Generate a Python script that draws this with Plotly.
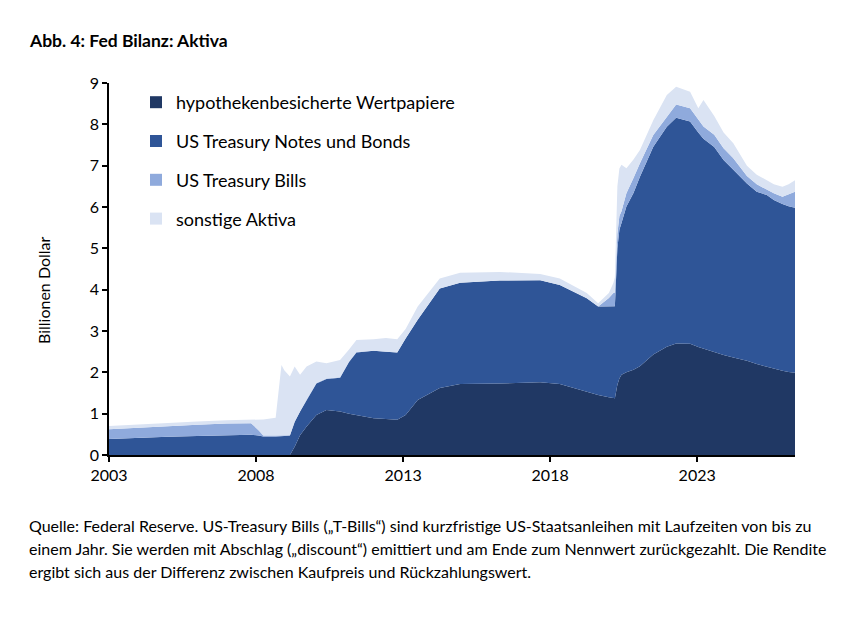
import plotly.graph_objects as go

# ---- data (Billionen Dollar) ----
dates = [
    "2003-01-01", "2004-01-01", "2005-01-01", "2006-01-01", "2007-01-01", "2007-11-01",
    "2008-02-01", "2008-04-01", "2008-09-01", "2008-10-08", "2008-11-12", "2008-12-17",
    "2009-02-25", "2009-04-25", "2009-07-01", "2009-09-20", "2010-01-20", "2010-05-25",
    "2010-11-10", "2011-03-01", "2011-06-01", "2012-01-01", "2012-06-01", "2012-10-20",
    "2013-02-01", "2013-07-01", "2014-04-01", "2014-12-10", "2016-04-15", "2017-08-30",
    "2018-05-01", "2019-04-01", "2019-08-20", "2019-12-31", "2020-02-25", "2020-03-15",
    "2020-04-15", "2020-05-10", "2020-06-05", "2020-08-05", "2020-11-01", "2021-01-20",
    "2021-07-05", "2021-12-20", "2022-04-15", "2022-10-05", "2023-01-15", "2023-03-20",
    "2023-08-01", "2023-11-25", "2024-03-25", "2024-09-10", "2025-01-10", "2025-05-15",
    "2025-08-10", "2025-11-25", "2026-02-10", "2026-04-30",
]
mbs = [
    0, 0, 0, 0, 0, 0,
    0, 0, 0, 0, 0, 0,
    0, 0.20, 0.48, 0.69, 0.97, 1.09,
    1.05, 1.00, 0.97, 0.89, 0.87, 0.85,
    0.97, 1.33, 1.62, 1.72, 1.73, 1.76,
    1.72, 1.53, 1.45, 1.40, 1.37, 1.37,
    1.70, 1.85, 1.94, 2.00, 2.06, 2.15,
    2.43, 2.62, 2.70, 2.69, 2.61, 2.57,
    2.48, 2.42, 2.36, 2.28, 2.20, 2.13,
    2.09, 2.04, 2.01, 1.99,
]
notes_bonds = [
    0.39, 0.42, 0.44, 0.46, 0.48, 0.49,
    0.47, 0.45, 0.45, 0.45, 0.45, 0.46,
    0.47, 0.60, 0.57, 0.64, 0.76, 0.75,
    0.82, 1.25, 1.51, 1.63, 1.63, 1.63,
    1.85, 1.94, 2.41, 2.45, 2.49, 2.47,
    2.39, 2.26, 2.14, 2.19, 2.22, 2.23,
    3.30, 3.60, 3.67, 4.01, 4.28, 4.58,
    5.03, 5.32, 5.46, 5.38, 5.19, 5.08,
    4.97, 4.72, 4.54, 4.29, 4.17, 4.16,
    4.08, 4.03, 4.01, 3.99,
]
bills = [
    0.23, 0.24, 0.26, 0.27, 0.28, 0.28,
    0.13, 0.02, 0.02, 0.02, 0.02, 0.01,
    0.01, 0.01, 0.01, 0.01, 0.01, 0.01,
    0.01, 0.01, 0.01, 0, 0, 0,
    0, 0, 0, 0, 0, 0,
    0, 0, 0, 0.21, 0.33, 0.33,
    0.35, 0.33, 0.29, 0.32, 0.36, 0.33,
    0.28, 0.25, 0.32, 0.32, 0.30, 0.30,
    0.30, 0.28, 0.28, 0.18, 0.18, 0.12,
    0.16, 0.18, 0.28, 0.39,
]
other = [
    0.08, 0.08, 0.08, 0.08, 0.08, 0.09,
    0.26, 0.39, 0.43, 1.13, 1.71, 1.58,
    1.42, 1.33, 0.88, 0.80, 0.52, 0.37,
    0.42, 0.29, 0.29, 0.28, 0.33, 0.32,
    0.23, 0.32, 0.24, 0.24, 0.21, 0.15,
    0.16, 0.13, 0.08, 0.12, 0.24, 0.37,
    1.15, 1.15, 1.12, 0.61, 0.45, 0.32,
    0.36, 0.52, 0.43, 0.40, 0.29, 0.64,
    0.45, 0.38, 0.36, 0.25, 0.23, 0.24,
    0.22, 0.24, 0.25, 0.28,
]

series_names = ["hypothekenbesicherte Wertpapiere", "US Treasury Notes und Bonds",
                "US Treasury Bills", "sonstige Aktiva"]
series_values = [mbs, notes_bonds, bills, other]
colors = ["#203864", "#2F5597", "#8FAADC", "#DAE3F3"]

year_ticks = ["2003", "2008", "2013", "2018", "2023"]

FONT = "Lato"

fig = go.Figure()
for name, vals, col in zip(series_names, series_values, colors):
    fig.add_trace(go.Scatter(
        x=dates, y=vals, name=name, stackgroup="one", mode="lines",
        line=dict(width=0, color=col), fillcolor=col, showlegend=False,
        hoverinfo="skip",
    ))
# legend entries (square markers)
for i, (name, col) in enumerate(zip(series_names, colors)):
    fig.add_trace(go.Scatter(
        x=[None], y=[None], mode="markers", name=name,
        marker=dict(symbol="square", size=12, color=col),
        legendgroup=f"g{i}", showlegend=True,
    ))

L, R, T, B = 109, 54, 83, 179
W, H = 849, 634
pw, ph = W - L - R, H - T - B

def px(xp):
    return (xp - L) / pw

def py(yp):
    return (H - B - yp) / ph

fig.update_layout(
    width=W, height=H,
    margin=dict(l=L, r=R, t=T, b=B, pad=0),
    paper_bgcolor="white", plot_bgcolor="white",
    font=dict(family=FONT, size=16, color="black"),
    showlegend=True,
    legend=dict(
        x=px(136), y=py(84), xanchor="left", yanchor="top",
        traceorder="grouped", tracegroupgap=12.4,
        font=dict(family=FONT, size=18, color="black"),
        bgcolor="rgba(0,0,0,0)", itemwidth=30,
    ),
    xaxis=dict(
        type="date", range=["2003-01-01", "2026-04-30"],
        tickvals=[f"{y}-01-01" for y in year_ticks], ticktext=year_ticks,
        ticks="outside", ticklen=5, tickwidth=1.5, tickcolor="black",
        showline=True, linecolor="black", linewidth=1.5,
        showgrid=False, zeroline=False,
        tickfont=dict(family=FONT, size=16),
    ),
    yaxis=dict(
        range=[0, 9], dtick=1, tick0=0,
        ticks="outside", ticklen=5, tickwidth=1.5, tickcolor="black",
        showline=True, linecolor="black", linewidth=1.5,
        showgrid=False, zeroline=False,
        tickfont=dict(family=FONT, size=16),
    ),
)

annotations = [
    dict(text="<b>Abb. 4: Fed Bilanz: Aktiva</b>", x=px(27), y=py(40),
         xanchor="left", yanchor="middle", font=dict(family=FONT, size=17.5)),
    dict(text="Billionen Dollar", x=px(43), y=py(290), textangle=-90,
         xanchor="center", yanchor="middle", font=dict(family=FONT, size=16)),
    dict(text="Quelle: Federal Reserve. US-Treasury Bills („T-Bills“) sind kurzfristige US-Staatsanleihen mit Laufzeiten von bis zu",
         x=px(27), y=py(525), xanchor="left", yanchor="middle", font=dict(family=FONT, size=16)),
    dict(text="einem Jahr. Sie werden mit Abschlag („discount“) emittiert und am Ende zum Nennwert zurückgezahlt. Die Rendite",
         x=px(27), y=py(548), xanchor="left", yanchor="middle", font=dict(family=FONT, size=16)),
    dict(text="ergibt sich aus der Differenz zwischen Kaufpreis und Rückzahlungswert.",
         x=px(27), y=py(571), xanchor="left", yanchor="middle", font=dict(family=FONT, size=16)),
]
for a in annotations:
    a.update(xref="paper", yref="paper", showarrow=False)
fig.update_layout(annotations=annotations)

fig.write_html("out.html")
